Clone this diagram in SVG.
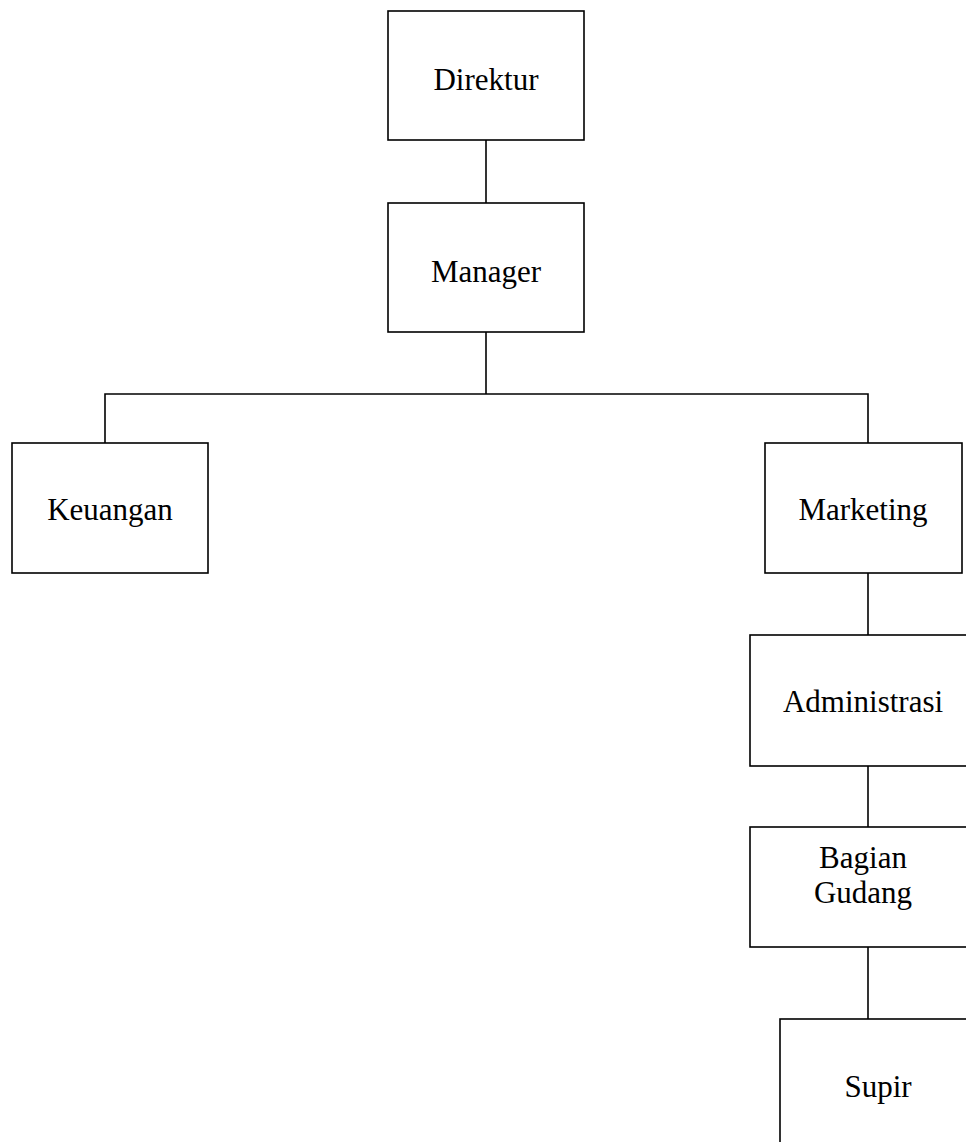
<svg xmlns="http://www.w3.org/2000/svg" width="966" height="1142" viewBox="0 0 966 1142">
<style>
.box{fill:#fff;stroke:#000;stroke-width:1.6}
.lbl{font-family:"Liberation Serif","Times New Roman",serif;font-size:31px;fill:#000;text-anchor:middle}
.con{fill:none;stroke:#000;stroke-width:1.6}
</style>
<rect width="966" height="1142" fill="#fff"/>
<g id="connectors">
<path class="con" d="M486 140V203"/>
<path class="con" d="M486 332V394"/>
<path class="con" d="M105 443V394H868V443"/>
<path class="con" d="M868 573V635"/>
<path class="con" d="M868 766V827"/>
<path class="con" d="M868 947V1019"/>
</g>
<g id="direktur"><rect class="box" x="388" y="11" width="196" height="129"/><text class="lbl" x="486" y="90">Direktur</text></g>
<g id="manager"><rect class="box" x="388" y="203" width="196" height="129"/><text class="lbl" x="486" y="282">Manager</text></g>
<g id="keuangan"><rect class="box" x="12" y="443" width="196" height="130"/><text class="lbl" x="110" y="520">Keuangan</text></g>
<g id="marketing"><rect class="box" x="765" y="443" width="197" height="130"/><text class="lbl" x="863" y="520">Marketing</text></g>
<g id="administrasi"><rect class="box" x="750" y="635" width="230" height="131"/><text class="lbl" x="863" y="712">Administrasi</text></g>
<g id="bagian-gudang"><rect class="box" x="750" y="827" width="230" height="120"/><text class="lbl" x="863" y="868">Bagian</text><text class="lbl" x="863" y="903">Gudang</text></g>
<g id="supir"><rect class="box" x="780" y="1019" width="200" height="140"/><text class="lbl" x="878" y="1097">Supir</text></g>
</svg>
